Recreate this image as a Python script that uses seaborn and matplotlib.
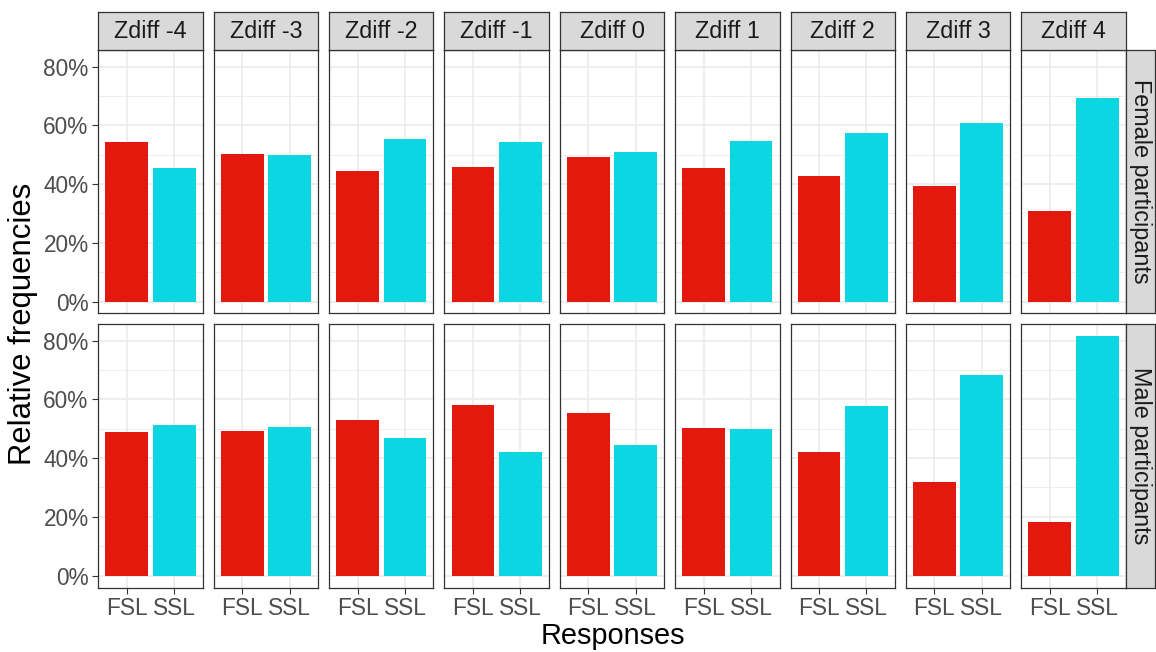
import matplotlib
matplotlib.use("Agg")
import matplotlib.pyplot as plt
import seaborn as sns
import pandas as pd
import numpy as np

# ---------------- data ----------------
zdiff_labels = ["Zdiff -4", "Zdiff -3", "Zdiff -2", "Zdiff -1", "Zdiff 0",
                "Zdiff 1", "Zdiff 2", "Zdiff 3", "Zdiff 4"]
responses = ["FSL", "SSL"]
groups = ["Female participants", "Male participants"]

female_fsl = [54.4, 50.1, 44.5, 45.8, 49.1, 45.4, 42.6, 39.2, 30.8]
female_ssl = [45.6, 49.9, 55.5, 54.2, 50.9, 54.6, 57.4, 60.8, 69.2]
male_fsl = [48.8, 49.4, 53.0, 58.0, 55.5, 50.2, 42.1, 31.7, 18.4]
male_ssl = [51.2, 50.6, 47.0, 42.0, 44.5, 49.8, 57.9, 68.3, 81.6]

y_ticks = [0, 20, 40, 60, 80]
y_minor = [10, 30, 50, 70]

rows = []
for g, fsl, ssl in [(groups[0], female_fsl, female_ssl), (groups[1], male_fsl, male_ssl)]:
    for z, a, b in zip(zdiff_labels, fsl, ssl):
        rows.append({"group": g, "zdiff": z, "Response": "FSL", "freq": a})
        rows.append({"group": g, "zdiff": z, "Response": "SSL", "freq": b})
df = pd.DataFrame(rows)

# ---------------- style ----------------
sns.set_style("white")
plt.rcParams["font.family"] = ["Liberation Sans", "DejaVu Sans"]

RED = "#E4190D"
CYAN = "#0BD6E2"
GRID = "#EBEBEB"
BORDER = "#333333"
STRIP = "#D9D9D9"
TICKCOL = "#4D4D4D"

W, H = 1156, 652
fig = plt.figure(figsize=(W / 100, H / 100), dpi=100)


def rect(x0, y0, w, h):
    return [x0 / W, 1 - (y0 + h) / H, w / W, h / H]


panel_left0 = 98.3
panel_step = 115.375
panel_w = 104.4
panel_h = 263.5
row_top = [50.0, 324.0]
strip_top = 12.3
strip_h = 37.7

vmax = df["freq"].max()
ylo, yhi = -0.05 * vmax, vmax * 1.05

for r, g in enumerate(groups):
    for c, z in enumerate(zdiff_labels):
        x0 = panel_left0 + c * panel_step
        ax = fig.add_axes(rect(x0, row_top[r], panel_w, panel_h))
        sub = df[(df["group"] == g) & (df["zdiff"] == z)]
        sns.barplot(data=sub, x="Response", y="freq", hue="Response",
                    order=responses, hue_order=responses,
                    palette=[RED, CYAN], width=0.9, saturation=1,
                    linewidth=0, errorbar=None, legend=False, ax=ax, zorder=2)
        ax.set_xlim(-0.6, 1.6)
        ax.set_ylim(ylo, yhi)
        ax.set_yticks(y_ticks)
        ax.set_yticks(y_minor, minor=True)
        ax.set_yticklabels([f"{v}%" for v in y_ticks])
        ax.grid(True, which="major", axis="both", color=GRID, lw=1.2, zorder=0)
        ax.grid(True, which="minor", axis="y", color=GRID, lw=0.6, zorder=0)
        ax.set_axisbelow(True)
        ax.set_xlabel("")
        ax.set_ylabel("")
        for s in ax.spines.values():
            s.set_color(BORDER)
            s.set_linewidth(0.9)
            s.set_visible(True)
        ax.tick_params(which="minor", length=0)
        ax.tick_params(axis="y", which="major", length=4.5, width=0.8, color=BORDER,
                       labelsize=16.3, labelcolor=TICKCOL, pad=2.5,
                       left=(c == 0), labelleft=(c == 0))
        ax.tick_params(axis="x", which="major", length=4, width=0.8, color=BORDER,
                       labelsize=16.3, labelcolor=TICKCOL, pad=2.5,
                       bottom=(r == 1), labelbottom=(r == 1))

        # top strips
        if r == 0:
            sax = fig.add_axes(rect(x0, strip_top, panel_w, strip_h))
            sax.set_facecolor(STRIP)
            sax.set_xticks([])
            sax.set_yticks([])
            for s in sax.spines.values():
                s.set_color(BORDER)
                s.set_linewidth(0.9)
            sax.text(0.5, 0.5, z, ha="center", va="center", fontsize=16.8,
                     color="#1A1A1A", transform=sax.transAxes)

    # right strips
    rx = panel_left0 + 8 * panel_step + panel_w
    rax = fig.add_axes(rect(rx, row_top[r], 29.5, panel_h))
    rax.set_facecolor(STRIP)
    rax.set_xticks([])
    rax.set_yticks([])
    for s in rax.spines.values():
        s.set_color(BORDER)
        s.set_linewidth(0.9)
    rax.text(0.5, 0.5, g, ha="center", va="center", rotation=-90, fontsize=16.8,
             color="#1A1A1A", transform=rax.transAxes)

fig.text(23 / W, 1 - 324 / H, "Relative frequencies", rotation=90,
         ha="center", va="center", fontsize=22.3, color="black")
fig.text(613 / W, 1 - 636 / H, "Responses", ha="center", va="center",
         fontsize=20.8, color="black")

fig.savefig("out.png", dpi=100)
